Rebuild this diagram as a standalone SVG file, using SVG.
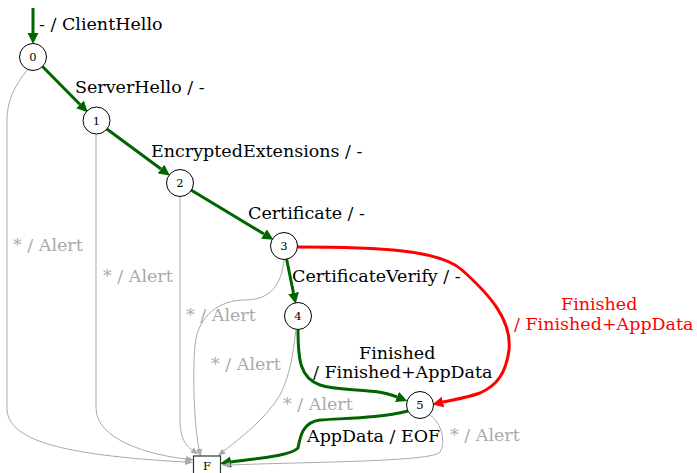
<svg xmlns="http://www.w3.org/2000/svg" width="697" height="473" viewBox="0 0 697 473">
<style>
text{font-family:"DejaVu Serif","Liberation Serif",serif}
.lbl{font-size:17.5px;fill:#000}
.glbl{font-size:17.5px;fill:#aaaaaa}
.rlbl{font-size:17.5px;fill:#ff0000}
.nl{font-size:11.5px;text-anchor:middle;fill:#000}
.node circle{fill:#fff;stroke:#000;stroke-width:1}
.node rect{fill:#fff;stroke:#333;stroke-width:1.2}
.g{fill:none;stroke:#006400;stroke-width:3}
.r{fill:none;stroke:#ff0000;stroke-width:3}
.a{fill:none;stroke:#aaaaaa;stroke-width:1}
</style>
<defs>
<marker id="mg" markerUnits="userSpaceOnUse" markerWidth="11" markerHeight="12" refX="0" refY="5.5" orient="auto"><path d="M0,0 L11,5.5 L0,11 z" fill="#006400"/></marker>
<marker id="mr" markerUnits="userSpaceOnUse" markerWidth="11" markerHeight="12" refX="0" refY="5.5" orient="auto"><path d="M0,0 L11,5.5 L0,11 z" fill="#ff0000"/></marker>
<marker id="ma" markerUnits="userSpaceOnUse" markerWidth="8" markerHeight="7" refX="0" refY="3" orient="auto"><path d="M0,0 L8,3 L0,6 z" fill="#aaaaaa"/></marker>
</defs>
<g id="connectors">
<path class="g" d="M33,8 L33,33" marker-end="url(#mg)"/>
<path class="g" d="M42,66 L80,104.5" marker-end="url(#mg)"/>
<path class="g" d="M106.5,128.7 L161,169" marker-end="url(#mg)"/>
<path class="g" d="M191,190 L264,234" marker-end="url(#mg)"/>
<path class="g" d="M286.5,258.7 L293.5,293" marker-end="url(#mg)"/>
<path class="r" d="M297,247 C380,247 440,250 462,270 C490,295 512,320 509,350 C506,372 498,385 480,393 C466,398 452,400 443,402" marker-end="url(#mr)"/>
<path class="g" d="M298,329 C298,360 300,378 320,385 C340,392 372,387 397,397" marker-end="url(#mg)"/>
<path class="g" d="M408,411 C380,418 350,418 320,420 C302,422 300,438 298,448 C290,456 260,458 231,462" marker-end="url(#mg)"/>
<path class="a" d="M28,69 C15,85 7,100 7,120 L7,408 C7,440 60,455 185,462" marker-end="url(#ma)"/>
<path class="a" d="M96,134 L96,408 C96,440 150,455 186,459" marker-end="url(#ma)"/>
<path class="a" d="M180,196 L180,420 C180,438 186,446 192,450" marker-end="url(#ma)"/>
<path class="a" d="M284,259 C282,285 270,300 245,300 C220,300 198,315 195,345 C192,380 195,430 199,449" marker-end="url(#ma)"/>
<path class="a" d="M296,329 C293,355 290,375 280,395 C265,420 240,438 224,451" marker-end="url(#ma)"/>
<path class="a" d="M428,414 C440,420 447,440 440,452 C435,462 300,462 230,465" marker-end="url(#ma)"/>
</g>
<g id="labels">
<text class="lbl" x="39" y="30">- / ClientHello</text>
<text class="lbl" x="75" y="93">ServerHello / -</text>
<text class="lbl" x="151" y="157">EncryptedExtensions / -</text>
<text class="lbl" x="248" y="219">Certificate / -</text>
<text class="lbl" x="292" y="282">CertificateVerify / -</text>
<text class="rlbl" x="561" y="310">Finished</text>
<text class="rlbl" x="514" y="330">/ Finished+AppData</text>
<text class="lbl" x="359" y="359">Finished</text>
<text class="lbl" x="313" y="378">/ Finished+AppData</text>
<text class="lbl" x="307" y="442">AppData / EOF</text>
<text class="glbl" x="13" y="251">* / Alert</text>
<text class="glbl" x="103" y="282">* / Alert</text>
<text class="glbl" x="186" y="321">* / Alert</text>
<text class="glbl" x="211" y="370">* / Alert</text>
<text class="glbl" x="283" y="410">* / Alert</text>
<text class="glbl" x="450" y="441">* / Alert</text>
</g>
<g id="n0" class="node"><circle cx="33" cy="57" r="13.5"/><text class="nl" x="33" y="61">0</text></g>
<g id="n1" class="node"><circle cx="96.5" cy="120.5" r="13.5"/><text class="nl" x="96.5" y="124.5">1</text></g>
<g id="n2" class="node"><circle cx="180" cy="183" r="13.5"/><text class="nl" x="180" y="187">2</text></g>
<g id="n3" class="node"><circle cx="284" cy="246" r="13.5"/><text class="nl" x="284" y="250">3</text></g>
<g id="n4" class="node"><circle cx="298" cy="316" r="13.5"/><text class="nl" x="298" y="320">4</text></g>
<g id="n5" class="node"><circle cx="420" cy="405" r="13.5"/><text class="nl" x="420" y="409">5</text></g>
<g id="nF" class="node"><rect x="193.5" y="456" width="27" height="22"/><text class="nl" x="207" y="470">F</text></g>
</svg>
